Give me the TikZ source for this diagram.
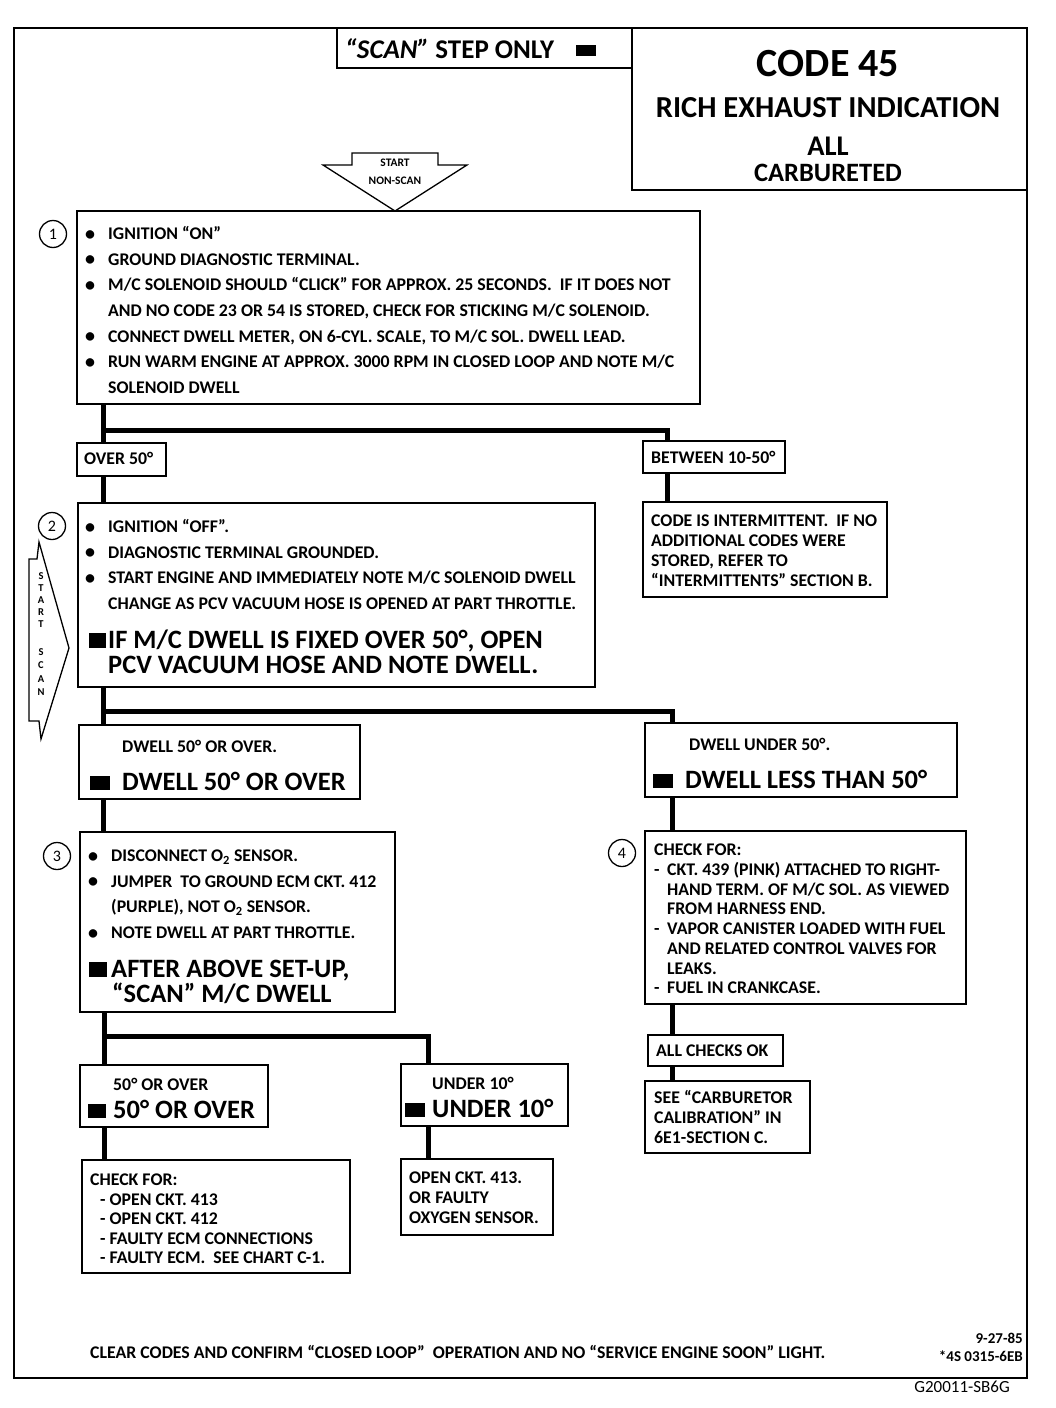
\documentclass[tikz,border=0pt]{standalone}
\usepackage{fontspec}
\setmainfont{Carlito}
\usetikzlibrary{positioning}

\newcommand{\bodyfont}{\fontsize{17.8}{20}\selectfont\bfseries}
\newcommand{\bigfont}{\fontsize{26.5}{28}\selectfont\bfseries}
\newcommand{\bul}{\makebox[23pt][l]{\raisebox{-0.8pt}{\fontsize{20}{20}\selectfont\textbullet}}}
\newcommand{\ind}{\hspace*{23pt}}
\newcommand{\dsh}{\makebox[13pt][l]{-}}
\newcommand{\blk}[1]{\rule[0.5pt]{#1}{14.5pt}}

\begin{document}
\begin{tikzpicture}[x=1pt, y=-1pt,
	box/.style={draw, line width=2pt, anchor=north west, inner sep=0pt, outer sep=0pt},
	txt/.style={anchor=base west, inner sep=0pt, font=\bodyfont},
	bigtxt/.style={anchor=base west, inner sep=0pt, font=\bigfont},
	num/.style={draw, circle, line width=1.3pt, minimum size=27pt, inner sep=0pt, font=\fontsize{16}{16}\selectfont},
	flow/.style={line width=5pt},
	frame/.style={line width=2.5pt}]
	\useasboundingbox (0,0) rectangle (1056,1408);
	\draw[frame] (14,28) rectangle (1027,1378);

	% title blocks
	\node[box, minimum width=295pt, minimum height=40pt] (scan) at (337,28) {};
	\node[box, minimum width=395pt, minimum height=162pt] (code) at (632,28) {};
	\node[anchor=base west, inner sep=0pt, font=\fontsize{27}{27}\selectfont\bfseries] (scant) at (345,58) {\textit{``SCAN''} STEP ONLY\hspace{22pt}\rule[2pt]{20pt}{11pt}};
	\node[anchor=base, inner sep=0pt, font=\fontsize{40}{40}\selectfont\bfseries] (codet) at (828,76.5) {CODE 45};
	\node[anchor=base, inner sep=0pt, font=\fontsize{30.5}{30}\selectfont\bfseries] (rich) at (828,117.5) {RICH EXHAUST INDICATION};
	\node[anchor=base, inner sep=0pt, font=\fontsize{28.5}{28}\selectfont\bfseries] (all) at (828,155) {ALL};
	\node[anchor=base, inner sep=0pt, font=\fontsize{26.5}{26}\selectfont\bfseries] (carbd) at (828,181.5) {CARBURETED};

	% start arrows
	\draw[line width=1.3pt, line join=miter] (352,153) -- (438,153) -- (438,165) -- (467,165) -- (395,211) -- (323,165) -- (352,165) -- cycle;
	\node[inner sep=0pt, font=\fontsize{11.5}{11}\selectfont\bfseries] (st1) at (395,163) {START};
	\node[inner sep=0pt, font=\fontsize{11.5}{11}\selectfont\bfseries] (st2) at (395,181) {NON-SCAN};
	\draw[line width=1.3pt, line join=miter] (29,559) -- (37,559) -- (39,542) -- (69,648) -- (41,739) -- (39,721) -- (29,721) -- cycle;
	\foreach \c/\yy in {S/576, T/588, A/600, R/612, T/624, S/652, C/665, A/679, N/692}
		\node[inner sep=0pt, font=\fontsize{10.5}{10}\selectfont\bfseries] (ss\yy) at (41,\yy) {\c};

	% step 1
	\node[num] (n1) at (53,234) {1};
	\node[box, minimum width=623pt, minimum height=193pt] (b1) at (77,211) {};
	\foreach \t [count=\i from 0] in {{\bul IGNITION ``ON''},
		{\bul GROUND DIAGNOSTIC TERMINAL.},
		{\bul M/C SOLENOID SHOULD ``CLICK'' FOR APPROX. 25 SECONDS.\ \ IF IT DOES NOT},
		{\ind AND NO CODE 23 OR 54 IS STORED, CHECK FOR STICKING M/C SOLENOID.},
		{\bul CONNECT DWELL METER, ON 6-CYL. SCALE, TO M/C SOL. DWELL LEAD.},
		{\bul RUN WARM ENGINE AT APPROX. 3000 RPM IN CLOSED LOOP AND NOTE M/C},
		{\ind SOLENOID DWELL}}
		\node[txt] (l1-\i) at (85,239.5+25.67*\i) {\t};

	\node[box, minimum width=89pt, minimum height=33pt] (over) at (77,443) {};
	\node[txt] (overt) at (84,464.5) {OVER 50°};
	\node[box, minimum width=142pt, minimum height=32pt] (betw) at (643,441) {};
	\node[txt] (betwt) at (651,463.5) {BETWEEN 10-50°};
	\node[box, minimum width=244pt, minimum height=95pt] (inter) at (643,502) {};
	\foreach \t [count=\i from 0] in {{CODE IS INTERMITTENT.\ \ IF NO},
		{ADDITIONAL CODES WERE}, {STORED, REFER TO},
		{``INTERMITTENTS'' SECTION B.}}
		\node[txt] (li-\i) at (651,526.5+20*\i) {\t};

	% step 2
	\node[num] (n2) at (52,526) {2};
	\node[box, minimum width=517pt, minimum height=184pt] (b2) at (78,503) {};
	\foreach \t [count=\i from 0] in {{\bul IGNITION ``OFF''.},
		{\bul DIAGNOSTIC TERMINAL GROUNDED.},
		{\bul START ENGINE AND IMMEDIATELY NOTE M/C SOLENOID DWELL},
		{\ind CHANGE AS PCV VACUUM HOSE IS OPENED AT PART THROTTLE.}}
		\node[txt] (l2-\i) at (85,532.5+25.67*\i) {\t};
	\node[bigtxt] (g2a) at (89,648) {\blk{17pt}\hspace{2pt}IF M/C DWELL IS FIXED OVER 50°, OPEN};
	\node[bigtxt] (g2b) at (108,673) {PCV VACUUM HOSE AND NOTE DWELL.};

	\node[box, minimum width=281pt, minimum height=74pt] (dw50) at (79,725) {};
	\node[txt] (dw50a) at (122,752.5) {DWELL 50° OR OVER.};
	\node[bigtxt] (dw50b) at (90,790.5) {\blk{20pt}\hspace{12pt}DWELL 50° OR OVER};
	\node[box, minimum width=312pt, minimum height=74pt] (dwlt) at (645,723) {};
	\node[txt] (dwlta) at (689,750.5) {DWELL UNDER 50°.};
	\node[bigtxt] (dwltb) at (653,788.5) {\blk{20pt}\hspace{12pt}DWELL LESS THAN 50°};

	% step 3
	\node[num] (n3) at (57,856) {3};
	\node[box, minimum width=315pt, minimum height=180pt] (b3) at (80,832) {};
	\foreach \t [count=\i from 0] in {{\bul DISCONNECT O\textsubscript{2} SENSOR.},
		{\bul JUMPER\ \ TO GROUND ECM CKT. 412},
		{\ind (PURPLE), NOT O\textsubscript{2} SENSOR.},
		{\bul NOTE DWELL AT PART THROTTLE.}}
		\node[txt] (l3-\i) at (88,861.5+25.67*\i) {\t};
	\node[bigtxt] (g3a) at (89,977) {\blk{18pt}\hspace{4pt}AFTER ABOVE SET-UP,};
	\node[bigtxt] (g3b) at (112,1002) {``SCAN'' M/C DWELL};

	% step 4
	\node[num] (n4) at (622,853) {4};
	\node[box, minimum width=321pt, minimum height=173pt] (b4) at (645,831) {};
	\foreach \t [count=\i from 0] in {{CHECK FOR:},
		{\dsh CKT. 439 (PINK) ATTACHED TO RIGHT-},
		{\hspace*{13pt}HAND TERM. OF M/C SOL. AS VIEWED},
		{\hspace*{13pt}FROM HARNESS END.},
		{\dsh VAPOR CANISTER LOADED WITH FUEL},
		{\hspace*{13pt}AND RELATED CONTROL VALVES FOR},
		{\hspace*{13pt}LEAKS.},
		{\dsh FUEL IN CRANKCASE.}}
		\node[txt] (l4-\i) at (654,855.5+19.76*\i) {\t};
	\node[box, minimum width=135pt, minimum height=31pt] (ok) at (648,1035) {};
	\node[txt] (okt) at (656,1056.5) {ALL CHECKS OK};
	\node[box, minimum width=165pt, minimum height=72pt] (carb) at (645,1081) {};
	\foreach \t [count=\i from 0] in {{SEE ``CARBURETOR}, {CALIBRATION'' IN}, {6E1-SECTION C.}}
		\node[txt] (lc-\i) at (654,1103.5+20*\i) {\t};

	% results of step 3
	\node[box, minimum width=188pt, minimum height=62pt] (ov50) at (80,1065) {};
	\node[txt] (ov50a) at (113,1090.5) {50° OR OVER};
	\node[bigtxt] (ov50b) at (88,1118.5) {\blk{18pt}\hspace{7pt}50° OR OVER};
	\node[box, minimum width=167pt, minimum height=62pt] (un10) at (401,1064) {};
	\node[txt] (un10a) at (432,1089.5) {UNDER 10°};
	\node[bigtxt] (un10b) at (405,1117.5) {\blk{20pt}\hspace{7pt}UNDER 10°};
	\node[box, minimum width=268pt, minimum height=113pt] (chk) at (82,1160) {};
	\foreach \t [count=\i from 0] in {{CHECK FOR:},
		{\hspace*{10pt}- OPEN CKT. 413},
		{\hspace*{10pt}- OPEN CKT. 412},
		{\hspace*{10pt}- FAULTY ECM CONNECTIONS},
		{\hspace*{10pt}- FAULTY ECM.\ \ SEE CHART C-1.}}
		\node[txt] (lk-\i) at (90,1185.5+19.6*\i) {\t};
	\node[box, minimum width=152pt, minimum height=76pt] (open) at (401,1159) {};
	\foreach \t [count=\i from 0] in {{OPEN CKT. 413.}, {OR FAULTY}, {OXYGEN SENSOR.}}
		\node[txt] (lo-\i) at (409,1183.5+20*\i) {\t};

	% flow lines
	\coordinate (j1) at (103,430);
	\coordinate (k1) at (667,430);
	\coordinate (j2) at (103,711);
	\coordinate (k2) at (672,711);
	\coordinate (j3) at (104,1036);
	\coordinate (k3) at (428,1036);
	\draw[flow] (b1.south -| j1) -- (over.north -| j1);
	\draw[flow, line join=miter] (j1) -- (k1) -- (betw.north -| k1);
	\draw[flow] (over.south -| j1) -- (b2.north -| j1);
	\draw[flow] (betw.south -| k1) -- (inter.north -| k1);
	\draw[flow] (b2.south -| j2) -- (dw50.north -| j2);
	\draw[flow, line join=miter] (j2) -- (k2) -- (dwlt.north -| k2);
	\draw[flow] (dw50.south -| j2) -- (b3.north -| j2);
	\draw[flow] (dwlt.south -| k2) -- (b4.north -| k2);
	\draw[flow] (b4.south -| k2) -- (ok.north -| k2);
	\draw[flow] (ok.south -| k2) -- (carb.north -| k2);
	\draw[flow] (b3.south -| j3) -- (ov50.north -| j3);
	\draw[flow, line join=miter] (j3) -- (k3) -- (un10.north -| k3);
	\draw[flow] (ov50.south -| j3) -- (chk.north -| j3);
	\draw[flow] (un10.south -| k3) -- (open.north -| k3);

	% footer
	\node[txt] (foot) at (90,1358.5) {CLEAR CODES AND CONFIRM ``CLOSED LOOP''\ \ OPERATION AND NO ``SERVICE ENGINE SOON'' LIGHT.};
	\node[anchor=base east, inner sep=0pt, font=\fontsize{15}{15}\selectfont\bfseries] (date) at (1023,1343) {9-27-85};
	\node[anchor=base east, inner sep=0pt, font=\fontsize{15}{15}\selectfont\bfseries] (ref) at (1023,1361) {*4S 0315-6EB};
	\node[anchor=base east, inner sep=0pt, font=\fontsize{17}{17}\selectfont] (fig) at (1010,1392) {G20011-SB6G};
\end{tikzpicture}
\end{document}
